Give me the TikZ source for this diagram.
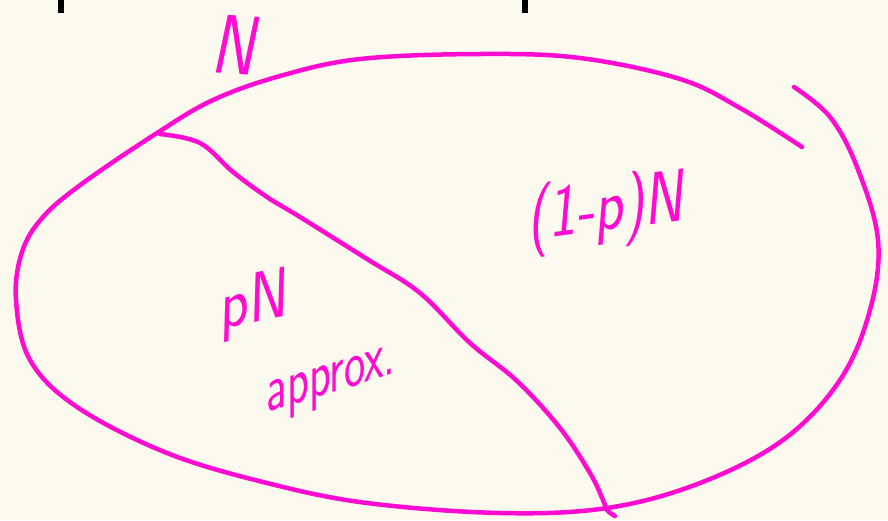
\documentclass[tikz,border=0pt]{standalone}
\usepackage{fontspec}
\setmainfont{Open Sans}
\definecolor{bg}{HTML}{FCFAEE}
\definecolor{ink}{HTML}{FF0BD2}
\begin{document}
\begin{tikzpicture}[x=1pt,y=-1pt,
  pen/.style={draw=ink,line width=4.5pt,line cap=round,line join=round},
  hand/.style={text=ink,inner sep=0pt,font=\fontsize{#1}{#1}\selectfont\sffamily\itshape}]
\useasboundingbox (0,0) rectangle (888,520);
\fill[bg] (0,0) rectangle (888,520);
% cut-off black marks at the top
\fill[black] (58,0) rectangle (64,13);
\fill[black] (522,0) rectangle (528,13);
% outer closed-ish loop
\draw[pen] plot[smooth,tension=0.6] coordinates {
 (802,147) (740,108) (680,79) (580,58) (480,54) (360,59) (280,76) (213,100)
 (157,133) (83,183) (43,217) (22,252) (16,300) (30,360) (77,407) (167,453) (267,483)
 (367,503) (500,513) (607,508) (700,483) (783,440) (840,380) (870,310)
 (878,240) (857,167) (830,117) (794,87)};
% divider
\draw[pen] plot[smooth,tension=0.6] coordinates {
 (160,134) (200,143) (233,172) (267,197) (300,217) (367,259) (420,293)
 (470,343) (517,381) (560,428) (590,473) (603,500) (607,510) (615,516)};
% labels
\node[hand=84,xscale=0.78,rotate=-3] (lN) at (233,45) {N};
\node[hand=74,xscale=0.8,rotate=6] (lq) at (605,212) {(1-p)N};
\node[hand=70,xscale=0.85,rotate=10] (lp) at (252,305) {pN};
\node[hand=66,xscale=0.7,rotate=12] (la) at (330,385) {approx.};
\end{tikzpicture}
\end{document}
